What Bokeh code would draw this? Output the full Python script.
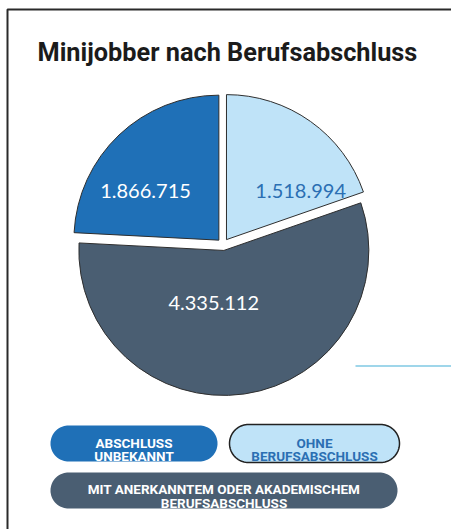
import numpy as np
from bokeh.plotting import figure
from bokeh.models import ColumnDataSource, Range1d
from bokeh.core.properties import value
from bokeh.embed import file_html
from bokeh.resources import INLINE

# ---------------- data ----------------
title = "Minijobber nach Berufsabschluss"
categories = ["Abschluss unbekannt",
              "Mit anerkanntem oder akademischem Berufsabschluss",
              "Ohne Berufsabschluss"]
values = [1866715, 4335112, 1518994]
value_labels = ["1.866.715", "4.335.112", "1.518.994"]
legend_lines = [["ABSCHLUSS", "UNBEKANNT"],
                ["OHNE", "BERUFSABSCHLUSS"],
                ["MIT ANERKANNTEM ODER AKADEMISCHEM", "BERUFSABSCHLUSS"]]

# ---------------- style ----------------
colors = ["#1f70b7", "#4a5e72", "#bfe3f8"]
label_colors = ["#ffffff", "#ffffff", "#2b6fb3"]
legend_text_colors = ["#ffffff", "#2b6fb3", "#ffffff"]

W, H = 451, 529


def Y(py):
    return H - py


p = figure(width=W, height=H, x_range=Range1d(0, W), y_range=Range1d(0, H),
           output_backend="svg", toolbar_location=None,
           x_axis_location=None, y_axis_location=None, min_border=0)
p.grid.visible = False
p.outline_line_color = None
p.background_fill_color = "white"
p.border_fill_color = "white"

# frame lines
p.line([7, 7, W], [0, Y(9), Y(9)], line_color="#2a2a2a", line_width=2)

# title
p.text(x=[37], y=[Y(52)], text=[title], text_font=value("Roboto"),
       text_font_style="bold", text_font_size="25.3px", text_color="#1b1b1b",
       text_baseline="alphabetic", text_align="left")

# ---------------- pie ----------------
cx, cy, R, explode = 222.5, Y(244), 145, 6
vals = np.array(values, dtype=float)
fr = vals / vals.sum()
ang = fr * 2 * np.pi
start = np.pi / 2 + np.concatenate([[0], np.cumsum(ang)[:-1]])
end = start + ang
mid = (start + end) / 2
xs = cx + explode * np.cos(mid)
ys = cy + explode * np.sin(mid)

src = ColumnDataSource(dict(x=xs, y=ys, start=start, end=end, color=colors,
                            cat=categories))
p.wedge(x="x", y="y", radius=R, start_angle="start", end_angle="end",
        fill_color="color", line_color="#2e2e2e", line_width=1, source=src)

# value labels placed inside each slice (layout nudges)
label_turn = np.radians([12.5, -19.0, -21.6])
label_frac = np.array([0.61, 0.37, 0.61])
lx = xs + label_frac * R * np.cos(mid + label_turn)
ly = ys + label_frac * R * np.sin(mid + label_turn)
p.text(x=lx, y=ly, text=value_labels, text_font=value("Lato"),
       text_font_size="20px", text_color=label_colors,
       text_align="center", text_baseline="middle")

# decorative thin line
p.line([355, W], [Y(365.5), Y(365.5)], line_color="#9fd6ea", line_width=2)


# ---------------- legend pills ----------------
def pill(x0, x1, y0, y1, n=40):
    r = (y1 - y0) / 2.0
    c = (y0 + y1) / 2.0
    t1 = np.linspace(np.pi / 2, 3 * np.pi / 2, n)
    t2 = np.linspace(-np.pi / 2, np.pi / 2, n)
    px = np.concatenate([x0 + r + r * np.cos(t1), x1 - r + r * np.cos(t2)])
    py = np.concatenate([c - r * np.sin(t1), c - r * np.sin(t2)])
    return list(px), [Y(v) for v in py]


boxes = [(50, 217, 425, 461), (229, 399, 424, 462), (50, 397, 472, 508)]
outline = [None, "#222222", None]
baselines = [(442, 455), (442, 455), (488, 502)]
for i, (x0, x1, y0, y1) in enumerate(boxes):
    bx, by = pill(x0, x1, y0, y1)
    p.patch(bx, by, fill_color=colors[[0, 2, 1][i]],
            line_color=outline[i] if outline[i] else None,
            line_width=1.5)
    xc = (x0 + x1) / 2
    for line, b in zip(legend_lines[i], baselines[i]):
        p.text(x=[xc], y=[Y(b)], text=[line], text_font=value("Roboto"),
               text_font_style="bold", text_font_size="13.5px",
               text_color=legend_text_colors[i], text_align="center",
               text_baseline="alphabetic")

open("out.html", "w").write(file_html(p, INLINE))
